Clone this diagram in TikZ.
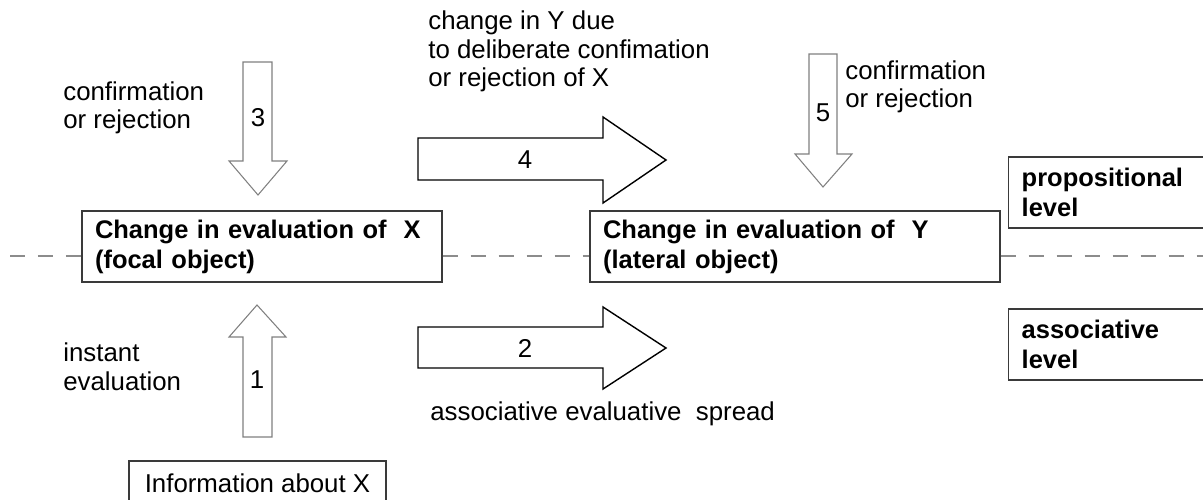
\documentclass[tikz,border=0pt]{standalone}
\usepackage{fontspec}
\setmainfont{Liberation Sans}
\definecolor{boxc}{HTML}{3A3A3A}
\definecolor{arrowgray}{HTML}{808080}
\definecolor{dashgray}{HTML}{8C8C8C}
\tikzset{
  txt/.style={inner sep=0pt, align=left, font=\fontsize{14.7}{16.3}\selectfont},
  num/.style={inner sep=0pt, font=\fontsize{14.7}{16.3}\selectfont},
  evalbox/.style={draw=boxc, line width=0.8pt, fill=white, align=left,
    inner xsep=0.26cm, minimum height=1.42cm,
    font=\fontsize{14.5}{17}\selectfont\bfseries},
  infobox/.style={draw=boxc, line width=0.8pt, fill=white,
    minimum width=5.14cm, minimum height=0.88cm,
    font=\fontsize{14.7}{16.3}\selectfont},
  grayblock/.style={draw=arrowgray, line width=0.6pt, fill=white, line join=miter},
  blackblock/.style={draw=black, line width=0.8pt, fill=white, line join=miter},
  levelline/.style={draw=dashgray, line width=0.7pt, dash pattern=on 0.3cm off 0.26cm}
}
\begin{document}
\begin{tikzpicture}[x=0.02cm, y=-0.02cm]
\clip (0,0) rectangle (1203,500);
\fill[white] (0,0) rectangle (1203,500);

% evaluation boxes on the level boundary
\node[evalbox, text width=6.68cm] (X) at (262,246.5)
  {Change in evaluation of\ \ X\\(focal object)};
\node[evalbox, text width=7.68cm] (Y) at (795,246.5)
  {Change in evaluation of\ \ Y\\(lateral object)};

% level labels on the right
\node[evalbox, text width=3.78cm, anchor=west] (prop) at (1008,192.5)
  {propositional\\level};
\node[evalbox, text width=3.78cm, anchor=west] (assoc) at (1008,344.5)
  {associative\\level};

% input box
\node[infobox] (info) at (257.5,483) {Information about X};

% dashed boundary between the two levels
\coordinate (lineL) at (10,256);
\coordinate (lineR) at (1203,256);
\draw[levelline] (lineL) -- (lineL -| X.west);
\draw[levelline] (X.east |- lineL) -- (Y.west |- lineL);
\draw[levelline] (Y.east |- lineL) -- (lineR);

% block arrows
% 3: confirmation or rejection of X
\draw[grayblock] (243,62) -- (272,62) -- (272,161) -- (287,161) -- (258,195)
  -- (229,161) -- (243,161) -- cycle;
% 1: instant evaluation
\draw[grayblock] (243,437) -- (272,437) -- (272,337) -- (286,337) -- (257,305)
  -- (229,337) -- (243,337) -- cycle;
% 5: confirmation or rejection of Y
\draw[grayblock] (809,54) -- (837,54) -- (837,154) -- (852,154) -- (823,187)
  -- (795,154) -- (809,154) -- cycle;
% 4: deliberate change
\draw[blackblock] (418,138) -- (603,138) -- (603,117) -- (666,160) -- (603,203)
  -- (603,180) -- (418,180) -- cycle;
% 2: associative spread
\draw[blackblock] (418,327) -- (603,327) -- (603,307) -- (666,348) -- (603,389)
  -- (603,368) -- (418,368) -- cycle;

% arrow numbers
\node[num] (n3) at (258,118) {3};
\node[num] (n1) at (257,380) {1};
\node[num] (n5) at (823,113) {5};
\node[num] (n4) at (525,160) {4};
\node[num] (n2) at (525,348) {2};

% annotations
\node[txt, anchor=west] (t3) at (63,108) {confirmation\\or rejection};
\node[txt, anchor=west] (t5) at (845,87) {confirmation\\or rejection};
\node[txt, anchor=west] (t4) at (428,51.5)
  {change in Y due\\to deliberate confimation\\or rejection of X};
\node[txt, anchor=west] (t1) at (63,366.5) {instant\\evaluation};
\node[txt, anchor=west] (t2) at (430,414) {associative evaluative\ \ spread};
\end{tikzpicture}
\end{document}
